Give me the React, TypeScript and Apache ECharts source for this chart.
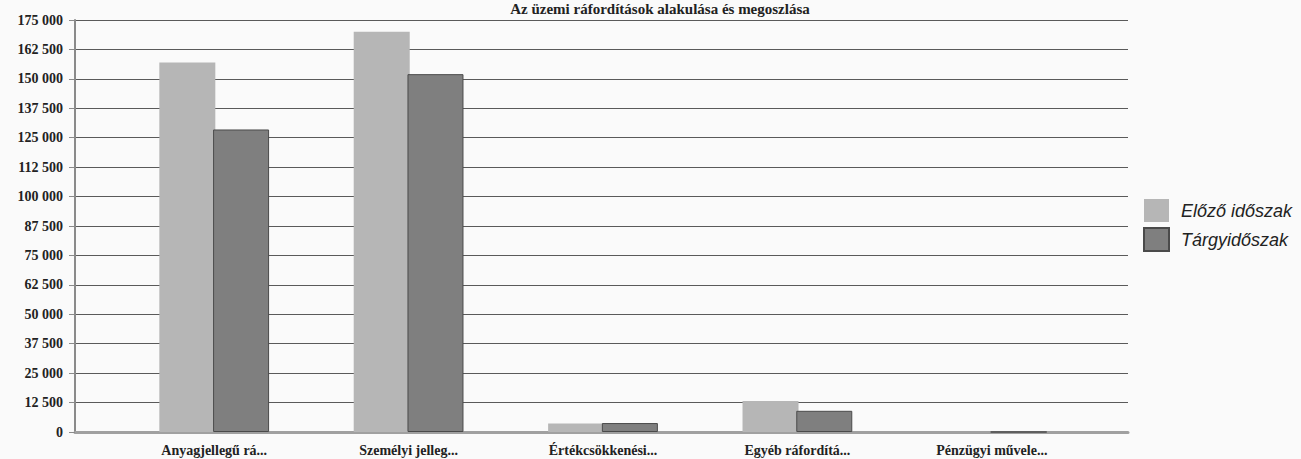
import React, { useEffect, useRef } from "react";
import * as echarts from "echarts";

const categories = [
  "Anyagjellegű rá...",
  "Személyi jelleg...",
  "Értékcsökkenési...",
  "Egyéb ráfordítá...",
  "Pénzügyi művele...",
];
const priorName = "Előző időszak";
const currentName = "Tárgyidőszak";
const priorValues = [157000, 170000, 3600, 13200, 0];
const currentValues = [128500, 152000, 3800, 9000, 0];
const titleText = "Az üzemi ráfordítások alakulása és megoszlása";

const fmt = (v: number) => String(v).replace(/\B(?=(\d{3})+(?!\d))/g, " ");

export default function App() {
  const ref = useRef<HTMLDivElement>(null);
  useEffect(() => {
    if (!ref.current) return;
    const chart = echarts.init(ref.current, undefined, { renderer: "svg" });
    const serif = "'Liberation Serif', 'DejaVu Serif', serif";
    chart.setOption({
      animation: false,
      backgroundColor: "#fafafa",
      title: {
        text: titleText,
        left: 660,
        textAlign: "center",
        top: 1,
        padding: 0,
        textStyle: { fontFamily: serif, fontWeight: "bold", fontSize: 15, color: "#222" },
      },
      legend: {
        orient: "vertical",
        left: 1138,
        top: 194,
        itemWidth: 25,
        itemHeight: 23,
        itemGap: 5,
        icon: "rect",
        data: [priorName, currentName],
        textStyle: {
          fontFamily: "'Liberation Sans', Arial, sans-serif",
          fontStyle: "italic",
          fontSize: 18,
          color: "#222",
          padding: [0, 0, 0, 7],
        },
      },
      grid: [
        { left: 75, right: 173, top: 20, bottom: 27 },
        { left: 117, right: 212, top: 20, bottom: 27 },
      ],
      xAxis: [
        {
          type: "category",
          gridIndex: 0,
          data: categories,
          axisLabel: { show: false },
          axisTick: { show: false },
          axisLine: { show: true, lineStyle: { color: "#a0a0a0", width: 3 } },
        },
        {
          type: "category",
          gridIndex: 1,
          data: categories,
          axisLine: { show: false },
          axisTick: { show: false },
          axisLabel: {
            fontFamily: serif,
            fontWeight: "bold",
            fontSize: 14,
            color: "#222",
            margin: 11,
          },
        },
      ],
      yAxis: [
        {
          type: "value",
          gridIndex: 0,
          min: 0,
          max: 175000,
          interval: 12500,
          axisLine: { show: true, lineStyle: { color: "#8a8a8a", width: 2 } },
          axisTick: { show: true, length: 6, lineStyle: { color: "#8a8a8a" } },
          splitLine: { lineStyle: { color: "#5a5a5a", width: 1 } },
          axisLabel: {
            fontFamily: serif,
            fontWeight: "bold",
            fontSize: 14,
            color: "#222",
            margin: 12,
            formatter: (v: number) => fmt(v),
          },
        },
        {
          type: "value",
          gridIndex: 1,
          min: 0,
          max: 175000,
          interval: 12500,
          show: false,
          splitLine: { show: false },
        },
      ],
      series: [
        {
          name: priorName,
          type: "bar",
          xAxisIndex: 1,
          yAxisIndex: 1,
          data: priorValues,
          barWidth: 56,
          barGap: "-4%",
          itemStyle: { color: "#b6b6b6" },
        },
        {
          name: currentName,
          type: "bar",
          xAxisIndex: 1,
          yAxisIndex: 1,
          data: currentValues,
          barWidth: 56,
          barGap: "-4%",
          itemStyle: { color: "#7f7f7f", borderColor: "#4a4a4a", borderWidth: 1 },
        },
      ],
    });
    return () => chart.dispose();
  }, []);
  return (
    <div
      ref={ref}
      style={{ position: "absolute", left: 0, top: 0, width: 1301, height: 459 }}
    />
  );
}
